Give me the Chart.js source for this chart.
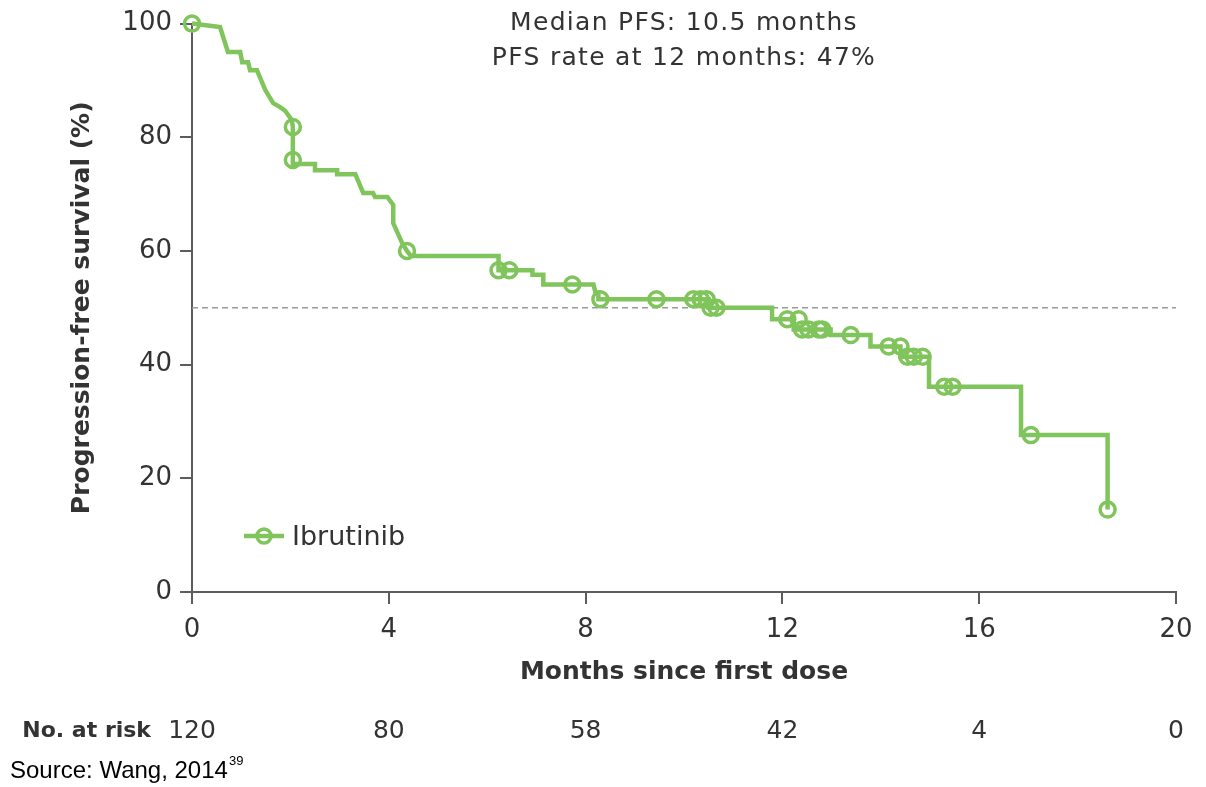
<!DOCTYPE html>
<html>
<head>
<meta charset="utf-8">
<script src="https://cdn.jsdelivr.net/npm/chart.js@4.4.1/dist/chart.umd.min.js"></script>
<style>
  html, body { margin: 0; padding: 0; background: #fff; }
  #pfs { display: block; }
</style>
</head>
<body>
<canvas id="pfs" width="1206" height="787"></canvas>
<script>
// Kaplan-Meier curve vertices (months, % progression-free)
var curveMonths = [0, 0.57, 0.73, 0.98, 1.02, 1.14, 1.18, 1.32, 1.49, 1.65, 1.79, 1.89, 2.03, 2.05, 2.05,
  2.50, 2.50, 2.95, 2.95, 3.32, 3.48, 3.68, 3.72, 3.97, 4.09, 4.09, 4.27, 4.37, 4.45,
  6.23, 6.23, 6.92, 6.92, 7.14, 7.14, 8.16, 8.20, 8.26, 8.26, 10.50, 10.50,
  11.79, 11.79, 12.23, 12.23, 12.98, 12.98, 13.79, 13.79, 14.40, 14.40, 14.98, 14.98,
  16.85, 16.85, 18.61, 18.61];
var curveSurvival = [100, 99.4, 95.0, 95.0, 93.2, 93.2, 91.8, 91.8, 88.3, 86.0, 85.3, 84.7, 83.0, 81.8, 75.3,
  75.3, 74.2, 74.2, 73.5, 73.5, 70.2, 70.2, 69.5, 69.5, 68.1, 64.9, 61.4, 60.0, 59.1,
  59.1, 56.6, 56.6, 55.8, 55.8, 54.1, 54.1, 52.7, 52.7, 51.5, 51.5, 50.0,
  50.0, 48.0, 48.0, 46.2, 46.2, 45.2, 45.2, 43.2, 43.2, 41.4, 41.4, 36.1,
  36.1, 27.6, 27.6, 14.5];

// censored observations
var censorMonths = [0, 2.05, 2.05, 4.37, 6.23, 6.45, 7.73, 8.30, 9.44, 10.19, 10.34, 10.46, 10.54, 10.66,
  12.10, 12.33, 12.40, 12.53, 12.74, 12.81, 13.39, 14.16, 14.40, 14.54, 14.67, 14.85,
  15.29, 15.46, 17.05, 18.61];
var censorSurvival = [100, 81.8, 76.0, 60.0, 56.6, 56.6, 54.1, 51.5, 51.5, 51.5, 51.5, 51.5, 50.0, 50.0,
  48.0, 48.0, 46.2, 46.2, 46.2, 46.2, 45.2, 43.2, 43.2, 41.4, 41.4, 41.4,
  36.1, 36.1, 27.6, 14.5];

var medianLevel = 50;
var riskMonths = [0, 4, 8, 12, 16, 20];
var atRisk = [120, 80, 58, 42, 4, 0];
var seriesName = "Ibrutinib";
var summaryLines = ["Median PFS: 10.5 months", "PFS rate at 12 months: 47%"];

var green = "#80c45c";
var axisGrey = "#5c5c5c";
var textColor = "#333333";
var font = "'DejaVu Sans', sans-serif";

function toPoints(xs, ys) {
  return xs.map(function (x, i) { return { x: x, y: ys[i] }; });
}

// summary text, legend, numbers at risk and source line
var extras = {
  id: "extras",
  afterDraw: function (chart) {
    var ctx = chart.ctx;
    var xs = chart.scales.x;
    ctx.save();
    ctx.fillStyle = textColor;

    ctx.font = "25px " + font;
    ctx.textAlign = "center";
    ctx.textBaseline = "alphabetic";
    ctx.letterSpacing = "1.3px";
    ctx.fillText(summaryLines[0], xs.getPixelForValue(10), 30);
    ctx.fillText(summaryLines[1], xs.getPixelForValue(10), 65);

    // legend
    ctx.letterSpacing = "0px";
    ctx.strokeStyle = green;
    ctx.lineWidth = 4.5;
    ctx.beginPath();
    ctx.moveTo(244, 536);
    ctx.lineTo(284, 536);
    ctx.stroke();
    ctx.lineWidth = 3.5;
    ctx.beginPath();
    ctx.arc(264, 536, 7, 0, Math.PI * 2);
    ctx.stroke();
    ctx.textAlign = "left";
    ctx.font = "27px " + font;
    ctx.fillText(seriesName, 292, 545);

    // numbers at risk
    ctx.font = "bold 22px " + font;
    ctx.textAlign = "right";
    ctx.fillText("No. at risk", 151, 737);
    ctx.font = "25px " + font;
    ctx.textAlign = "center";
    riskMonths.forEach(function (m, i) {
      ctx.fillText(String(atRisk[i]), xs.getPixelForValue(m), 738);
    });

    // source
    ctx.fillStyle = "#000";
    ctx.textAlign = "left";
    ctx.font = "24px 'Liberation Sans', Arial, sans-serif";
    ctx.fillText("Source: Wang, 2014", 10, 778);
    var w = ctx.measureText("Source: Wang, 2014").width;
    ctx.font = "13px 'Liberation Sans', Arial, sans-serif";
    ctx.fillText("39", 10 + w + 1, 765);
    ctx.restore();
  }
};

new Chart(document.getElementById("pfs"), {
  type: "line",
  data: {
    datasets: [
      {
        label: "median",
        data: [{ x: 0, y: medianLevel }, { x: 20, y: medianLevel }],
        borderColor: "#9a9a9a",
        borderWidth: 1.5,
        borderDash: [6, 4],
        pointRadius: 0,
        order: 3
      },
      {
        label: seriesName,
        data: toPoints(curveMonths, curveSurvival),
        borderColor: green,
        borderWidth: 4.5,
        pointRadius: 0,
        tension: 0,
        fill: false,
        clip: false,
        order: 2
      },
      {
        label: "censored",
        data: toPoints(censorMonths, censorSurvival),
        showLine: false,
        pointStyle: "circle",
        pointRadius: 7.5,
        pointBorderWidth: 3.5,
        pointBorderColor: green,
        pointBackgroundColor: "rgba(255,255,255,0)",
        clip: false,
        order: 1
      }
    ]
  },
  options: {
    responsive: false,
    animation: false,
    devicePixelRatio: 1,
    layout: { padding: { top: 23, right: 30, bottom: 97, left: 0 } },
    plugins: { legend: { display: false }, tooltip: { enabled: false } },
    scales: {
      x: {
        type: "linear",
        min: 0,
        max: 20,
        ticks: { stepSize: 4, padding: 11, color: textColor, font: { family: font, size: 26 } },
        grid: { drawOnChartArea: false, tickLength: 12, color: axisGrey, lineWidth: 2 },
        border: { color: axisGrey, width: 2 },
        title: {
          display: true,
          text: "Months since first dose",
          color: textColor,
          font: { family: font, size: 25, weight: "bold" },
          padding: { top: 0, bottom: 3 }
        },
        afterFit: function (s) { s.height = 98; }
      },
      y: {
        min: 0,
        max: 100,
        ticks: { stepSize: 20, padding: 8, color: textColor, font: { family: font, size: 26 } },
        grid: { drawOnChartArea: false, tickLength: 12, color: axisGrey, lineWidth: 2 },
        border: { color: axisGrey, width: 2 },
        title: {
          display: true,
          text: "Progression-free survival (%)",
          color: textColor,
          font: { family: font, size: 25, weight: "bold" },
          padding: { top: 67, bottom: 0 }
        },
        afterFit: function (s) { s.width = 192; }
      }
    }
  },
  plugins: [extras]
});
</script>
</body>
</html>
